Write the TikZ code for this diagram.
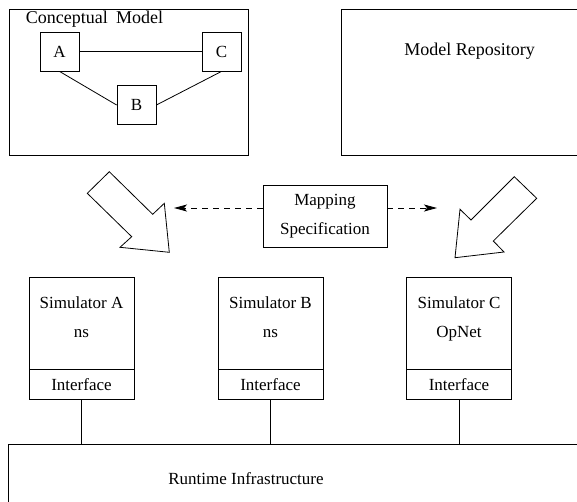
\documentclass[tikz,border=0pt]{standalone}
\usepackage{fontspec}
\setmainfont{Liberation Serif}
\usetikzlibrary{arrows.meta,positioning}

\begin{document}
\begin{tikzpicture}[x=1pt, y=-1pt,
  box/.style={draw, line width=0.8pt, inner sep=0pt, align=center, font=\fontsize{17}{29}\selectfont},
  small/.style={box, minimum width=39pt, minimum height=39pt},
  sim/.style={box, minimum width=105pt, minimum height=92pt, text depth=12pt},
  iface/.style={box, minimum width=105pt, minimum height=30pt},
  txt/.style={inner sep=0pt, font=\fontsize{17}{20}\selectfont},
  big/.style={txt, font=\fontsize{18}{20}\selectfont},
  link/.style={line width=0.8pt},
  dasharr/.style={-{Stealth[length=13pt, width=7pt, inset=3pt]}, line width=0.8pt, dash pattern=on 6pt off 5pt},
  fatarr/.style={draw, line width=0.8pt, line join=miter}]
  \clip (0,0) rectangle (577,501);
  % top row: conceptual model (left), model repository (right, cut off)
  \node[box, minimum width=239pt, minimum height=146pt] (cm) at (128.5,82) {};
  \node[big] (cmlab) at (94.5,19) {Conceptual\hspace{0.45em}Model};
  \node[small] (a) at (59.5,51.5) {A};
  \node[small] (c) at (221.5,51.5) {C};
  \node[small] (b) at (136.5,105) {B};
  \draw[link] (a) -- (c);
  \draw[link] (a.south) -- (b.west);
  \draw[link] (b.east) -- (c.south);
  \node[box, minimum width=259pt, minimum height=146pt] (repo) at (470.5,82) {};
  \node[big] (repolab) at (469.5,51) {Model Repository};
  % mapping in the middle, fat arrows down to the simulators
  \node[box, minimum width=124pt, minimum height=62pt] (map) at (325,216) {Mapping\\Specification};
  \coordinate (tipL) at (174,208);
  \coordinate (tipR) at (437,208);
  \draw[dasharr] (map.west |- tipL) -- (tipL);
  \draw[dasharr] (map.east |- tipR) -- (tipR);
  \draw[fatarr] (87.3,193.3) -- (109.3,171.7) -- (152.7,214.3) -- (164.3,203.3)
    -- (169.3,252.3) -- (120,247.3) -- (131.7,236.7) -- cycle;
  \draw[fatarr] (514.3,176.7) -- (536.7,198.3) -- (493.3,241) -- (504,252)
    -- (455,257.7) -- (460,209.3) -- (471,220) -- cycle;
  % simulators with their interfaces
  \node[sim] (sa) at (81.5,323) {Simulator A\\ns};
  \node[sim] (sb) at (270.5,323) {Simulator B\\ns};
  \node[sim] (sc) at (459,323) {Simulator C\\OpNet};
  \node[iface, below=0pt of sa] (ia) {Interface};
  \node[iface, below=0pt of sb] (ib) {Interface};
  \node[iface, below=0pt of sc] (ic) {Interface};
  % runtime infrastructure (cut off right and below)
  \node[box, minimum width=592pt, minimum height=86pt] (rti) at (304,487) {};
  \node[txt] (rtilab) at (246,479) {Runtime Infrastructure};
  \draw[link] (ia.south) -- (ia.south |- rti.north);
  \draw[link] (ib.south) -- (ib.south |- rti.north);
  \draw[link] (ic.south) -- (ic.south |- rti.north);
\end{tikzpicture}
\end{document}
